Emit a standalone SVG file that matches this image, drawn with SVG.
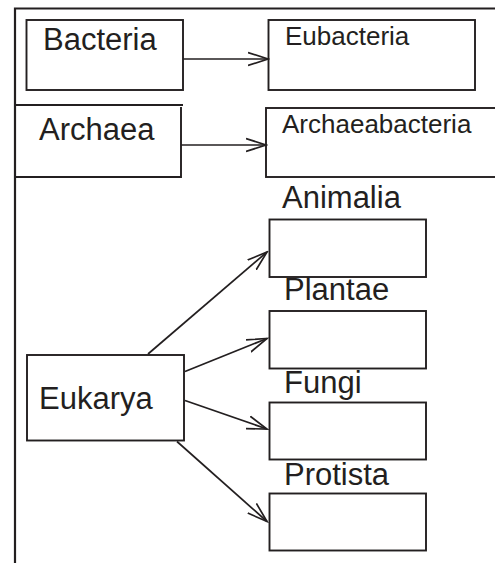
<svg xmlns="http://www.w3.org/2000/svg" width="495" height="563" viewBox="0 0 495 563">
<style>
.box{fill:#fff;stroke:#231f20;stroke-width:1.9}
.frame{fill:none;stroke:#231f20;stroke-width:2.2}
.big{font-family:"Liberation Sans",Arial,sans-serif;font-size:31px;fill:#231f20}
.small{font-family:"Liberation Sans",Arial,sans-serif;font-size:26px;fill:#231f20}
.conn{fill:none;stroke:#231f20;stroke-width:1.7}
</style>
<defs>
<marker id="arr" markerUnits="userSpaceOnUse" markerWidth="22" markerHeight="16" viewBox="0 0 22 16" refX="20" refY="8" orient="auto">
<path d="M0,1.5 L20,8 L0,14.5" fill="none" stroke="#231f20" stroke-width="1.7"/>
</marker>
</defs>
<g id="frame">
<path class="frame" d="M15,563 V8.5 H495"/>
</g>
<g id="bacteria">
<rect class="box" x="26.5" y="20" width="156.5" height="70"/>
<text class="big" x="43" y="50">Bacteria</text>
</g>
<g id="archaea">
<path class="frame" d="M15,105 H183"/>
<path class="box" d="M181,107 V177 H15" fill="none"/>
<text class="big" x="39" y="140">Archaea</text>
</g>
<g id="eubacteria">
<rect class="box" x="268.5" y="20" width="206.5" height="70"/>
<text class="small" x="285" y="45">Eubacteria</text>
</g>
<g id="archaeabacteria">
<rect class="box" x="266" y="108" width="240" height="69"/>
<text class="small" x="282" y="133">Archaeabacteria</text>
</g>
<g id="eukarya">
<rect class="box" x="27" y="355" width="157" height="85.5"/>
<text class="big" x="39" y="409">Eukarya</text>
</g>
<g id="animalia">
<text class="big" x="282" y="208">Animalia</text>
<rect class="box" x="269.5" y="219.5" width="156.5" height="57.5"/>
</g>
<g id="plantae">
<text class="big" x="284" y="300">Plantae</text>
<rect class="box" x="269.5" y="311" width="156.5" height="57.5"/>
</g>
<g id="fungi">
<text class="big" x="284" y="393">Fungi</text>
<rect class="box" x="269.5" y="402.5" width="156.5" height="57"/>
</g>
<g id="protista">
<text class="big" x="284" y="485">Protista</text>
<rect class="box" x="269.5" y="493.5" width="156.5" height="57"/>
</g>
<g id="connectors">
<line class="conn" x1="183" y1="59" x2="268" y2="59" marker-end="url(#arr)"/>
<line class="conn" x1="181" y1="145" x2="266" y2="145" marker-end="url(#arr)"/>
<line class="conn" x1="148" y1="354" x2="267" y2="252" marker-end="url(#arr)"/>
<line class="conn" x1="185" y1="371.5" x2="267" y2="338.5" marker-end="url(#arr)"/>
<line class="conn" x1="185" y1="400.5" x2="267" y2="429" marker-end="url(#arr)"/>
<line class="conn" x1="177" y1="441.5" x2="267" y2="521.5" marker-end="url(#arr)"/>
</g>
</svg>
